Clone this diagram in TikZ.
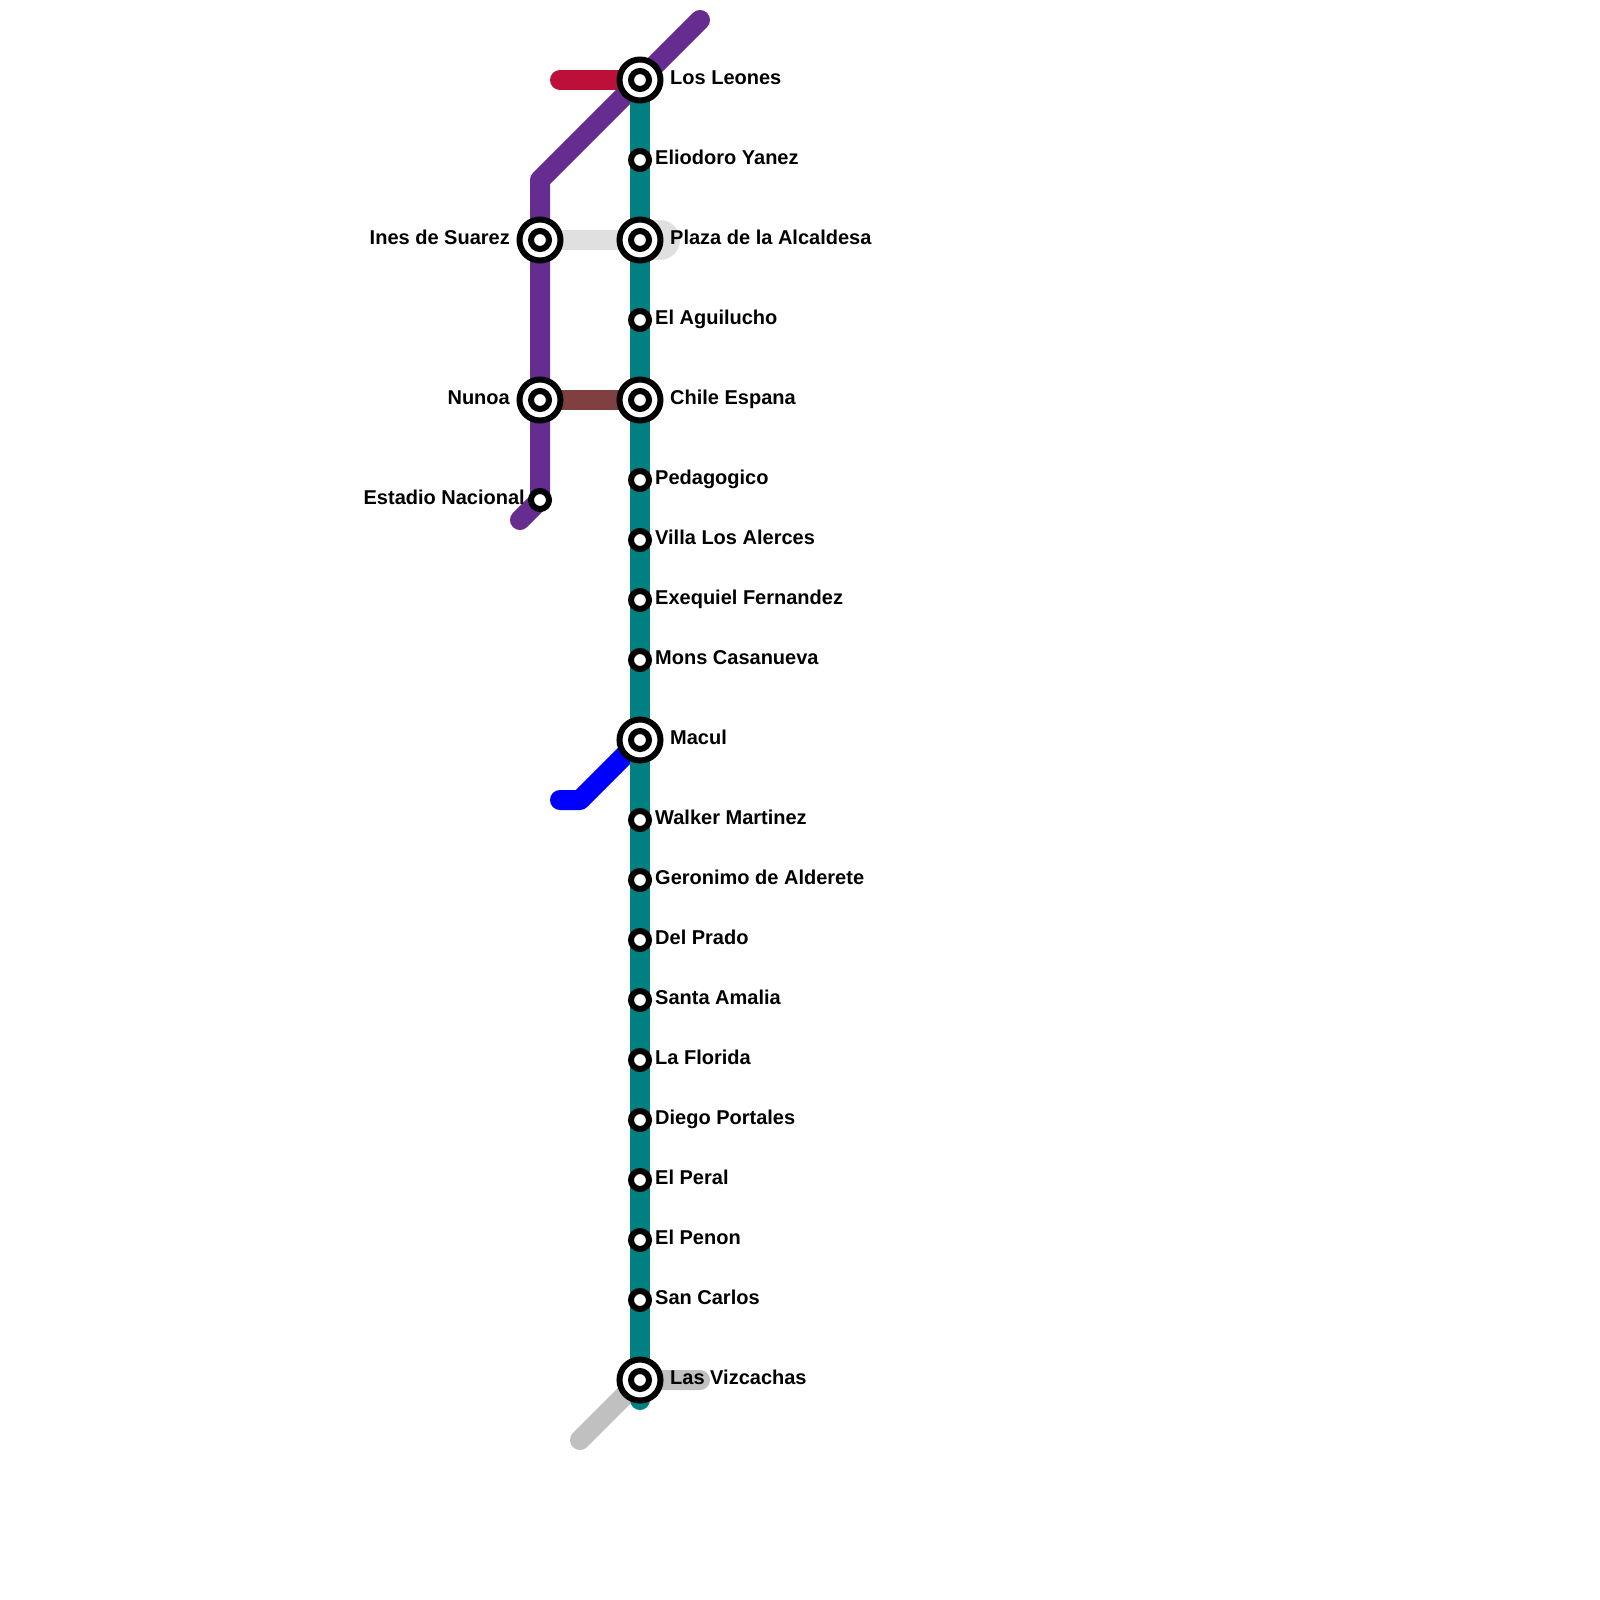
\documentclass[tikz,border=0pt]{standalone}
\usepackage{fontspec}
\setmainfont{Liberation Sans}
\usetikzlibrary{backgrounds}
\definecolor{tealline}{HTML}{008080}
\definecolor{purpleline}{HTML}{662C90}
\definecolor{redline}{HTML}{BD1038}
\definecolor{brownline}{HTML}{804040}
\definecolor{blueline}{HTML}{0000FF}
\definecolor{paleline}{HTML}{E0E0E0}
\definecolor{greyline}{HTML}{C0C0C0}
\begin{document}
\begin{tikzpicture}[
  x=1pt, y=-1pt,
  metroline/.style={line width=20pt, line cap=round, line join=round},
  stop/.style={circle, draw=black, fill=white, line width=6pt, inner sep=0pt, outer sep=0pt, minimum size=18pt},
  interchange/.style={circle, draw=black, fill=white, line width=6pt, inner sep=0pt, outer sep=0pt, minimum size=41pt},
  stationlabel/.style={inner sep=0pt, font=\fontsize{20}{24}\bfseries}
]
\useasboundingbox (0,0) rectangle (1600,1600);

% interchanges
\foreach \id/\px/\py/\txt in {
  leones/640/80/Los Leones,
  alcaldesa/640/240/Plaza de la Alcaldesa,
  chile/640/400/Chile Espana,
  macul/640/740/Macul,
  vizcachas/640/1380/Las Vizcachas}
{
  \node[interchange] (\id) at (\px,\py) {};
  \node[stop] (\id-in) at (\px,\py) {};
  \node[stationlabel, anchor=base west] (\id-txt) at (\px+30,\py+4.5) {\txt};
}
\foreach \id/\py/\txt in {ines/240/Ines de Suarez, nunoa/400/Nunoa}
{
  \node[interchange] (\id) at (540,\py) {};
  \node[stop] (\id-in) at (540,\py) {};
  \node[stationlabel, anchor=base east] (\id-txt) at (510,\py+4.5) {\txt};
}

% stops
\foreach \id/\py/\txt in {
  eliodoro/160/Eliodoro Yanez,
  aguilucho/320/El Aguilucho,
  pedagogico/480/Pedagogico,
  villa/540/Villa Los Alerces,
  exequiel/600/Exequiel Fernandez,
  mons/660/Mons Casanueva,
  walker/820/Walker Martinez,
  geronimo/880/Geronimo de Alderete,
  prado/940/Del Prado,
  amalia/1000/Santa Amalia,
  florida/1060/La Florida,
  portales/1120/Diego Portales,
  peral/1180/El Peral,
  penon/1240/El Penon,
  carlos/1300/San Carlos}
{
  \node[stop] (\id) at (640,\py) {};
  \node[stationlabel, anchor=base west] (\id-txt) at (655,\py+4.5) {\txt};
}
\node[stop] (estadio) at (540,500) {};
\node[stationlabel, anchor=base east] (estadio-txt) at (525,504.5) {Estadio Nacional};

% free ends of the lines
\coordinate (tealend) at (640,1400);
\coordinate (purpletop) at (700,20);
\coordinate (purplebend) at (540,180);
\coordinate (purpleend) at (520,520);
\coordinate (redend) at (560,80);
\coordinate (blueend) at (560,800);
\coordinate (bluebend) at (580,800);
\coordinate (greyleft) at (580,1440);
\coordinate (greyright) at (700,1380);
\coordinate (paleend) at (660,240);

\begin{scope}[on background layer]
  \draw[metroline, paleline, line width=40pt] (alcaldesa.center) -- (paleend);
  \draw[metroline, paleline] (ines.center) -- (alcaldesa.center);
  \draw[metroline, redline] (redend) -- (leones.center);
  \draw[metroline, brownline] (nunoa.center) -- (chile.center);
  \draw[metroline, greyline] (greyleft) -- (vizcachas.center) -- (greyright);
  \draw[metroline, blueline] (blueend) -- (bluebend) -- (macul.center);
  \draw[metroline, purpleline] (purpletop) -- (leones.center) -- (purplebend) -- (ines.center) -- (nunoa.center) -- (estadio.center) -- (purpleend);
  \draw[metroline, tealline] (leones.center) -- (tealend);
\end{scope}
\end{tikzpicture}
\end{document}
